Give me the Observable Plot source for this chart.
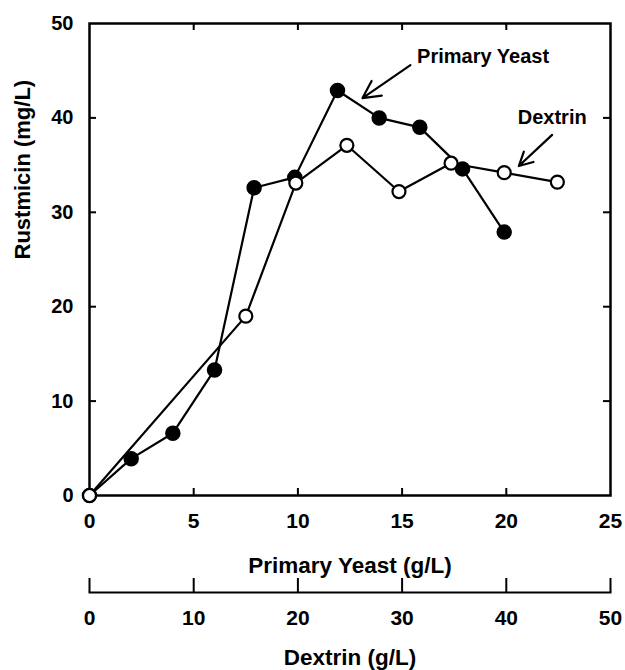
<!DOCTYPE html>
<html><head><meta charset="utf-8">
<script src="https://cdn.jsdelivr.net/npm/d3@7"></script>
<script src="https://cdn.jsdelivr.net/npm/@observablehq/plot@0.6"></script>
<style>
html,body{margin:0;padding:0;background:#fff;}
#chart svg{display:block;overflow:visible;}
</style></head><body><div id="chart"></div>
<script>
// Primary Yeast series (filled circles): x in g/L yeast, y in mg/L Rustmicin
const yeastX = [0, 2, 4, 6, 7.9, 9.85, 11.9, 13.9, 15.85, 17.9, 19.9];
const yeastY = [0, 3.9, 6.6, 13.3, 32.6, 33.7, 42.9, 40.0, 39.0, 34.6, 27.9];
// Dextrin series (open circles): x in g/L dextrin, y in mg/L Rustmicin
const dextrinX = [0, 15, 19.8, 24.7, 29.7, 34.7, 39.8, 44.9];
const dextrinY = [0, 19.0, 33.1, 37.1, 32.2, 35.2, 34.2, 33.2];
// Tick labels
const yeastTicks = [0, 5, 10, 15, 20, 25];
const dextrinTicks = [0, 10, 20, 30, 40, 50];
const yTicks = [0, 10, 20, 30, 40, 50];
// Titles
const xTitle = "Primary Yeast (g/L)";
const x2Title = "Dextrin (g/L)";
const yTitle = "Rustmicin (mg/L)";
// Annotations (in yeast-axis / rustmicin units)
const noteText = ["Primary Yeast", "Dextrin"];
const noteX = [15.72, 20.55];
const noteY = [46.45, 40.0];
const arrowX1 = [15.4, 22.2];
const arrowY1 = [45.6, 38.2];
const arrowX2 = [13.1, 20.6];
const arrowY2 = [42.1, 34.9];

const yeast = yeastX.map((x, i) => ({x, y: yeastY[i]}));
const dextrin = dextrinX.map((d, i) => ({d, y: dextrinY[i]}));
const notes = noteText.map((t, i) => ({t, x: noteX[i], y: noteY[i], x1: arrowX1[i], y1: arrowY1[i], x2: arrowX2[i], y2: arrowY2[i]}));

const W = 625, H1 = 575, mL = 89, mR = 15, mT = 23, mB = H1 - 495;
const frameH = H1 - mT - mB, frameW = W - mL - mR, tickLen = 7;
const font = "'Liberation Sans', Arial, Helvetica, sans-serif";

const main = Plot.plot({
  width: W, height: H1,
  marginLeft: mL, marginRight: mR, marginTop: mT, marginBottom: mB,
  style: {fontFamily: font, fontWeight: "bold", fontSize: "20px", background: "white", color: "black", overflow: "visible"},
  x: {domain: [0, 25]},
  y: {domain: [0, 50]},
  marks: [
    Plot.frame({strokeWidth: 2.5, stroke: "black"}),
    Plot.tickX(yeastTicks.slice(1, -1), {x: d => d, insetTop: frameH - tickLen, strokeWidth: 2}),
    Plot.tickX(yeastTicks.slice(1, -1), {x: d => d, insetBottom: frameH - tickLen, strokeWidth: 2}),
    Plot.tickY(yTicks.slice(1, -1), {y: d => d, insetRight: frameW - tickLen, strokeWidth: 2}),
    Plot.tickY(yTicks.slice(1, -1), {y: d => d, insetLeft: frameW - tickLen, strokeWidth: 2}),
    Plot.axisX({ticks: yeastTicks, tickSize: 0, tickPadding: 18, fontSize: 21, label: null}),
    Plot.axisY({ticks: yTicks, tickSize: 0, tickPadding: 16, fontSize: 20, label: null}),
    Plot.text([xTitle], {frameAnchor: "bottom", dy: 77, fontSize: 22.5, fontWeight: "bold"}),
    Plot.text([yTitle], {frameAnchor: "left", dx: -67, rotate: -90, fontSize: 22, fontWeight: "bold"}),
    Plot.line(yeast, {x: "x", y: "y", stroke: "black", strokeWidth: 2.2}),
    Plot.dot(yeast, {x: "x", y: "y", r: 7, fill: "black", stroke: "black"}),
    Plot.line(dextrin, {x: d => d.d / 2, y: "y", stroke: "black", strokeWidth: 2.2}),
    Plot.dot(dextrin, {x: d => d.d / 2, y: "y", r: 6.5, fill: "white", stroke: "black", strokeWidth: 2.2}),
    Plot.arrow(notes, {x1: "x1", y1: "y1", x2: "x2", y2: "y2", stroke: "black", strokeWidth: 2.2, headLength: 16, headAngle: 55}),
    Plot.text(notes, {x: "x", y: "y", text: "t", textAnchor: "start", fontSize: 20, fontWeight: "bold"})
  ]
});

const H2 = 95;
const second = Plot.plot({
  width: W, height: H2,
  marginLeft: mL, marginRight: mR, marginTop: 3, marginBottom: H2 - 17,
  style: {fontFamily: font, fontWeight: "bold", fontSize: "20px", background: "transparent", color: "black", overflow: "visible"},
  x: {domain: [0, 50]},
  marks: [
    Plot.frame({anchor: "bottom", strokeWidth: 2, stroke: "black"}),
    Plot.tickX(dextrinTicks, {x: d => d, strokeWidth: 2}),
    Plot.axisX({ticks: dextrinTicks, tickSize: 0, tickPadding: 18, fontSize: 21, label: null}),
    Plot.text([x2Title], {frameAnchor: "bottom", dy: 72, fontSize: 22.5, fontWeight: "bold"})
  ]
});

document.getElementById("chart").append(main, second);
</script>
</body></html>
